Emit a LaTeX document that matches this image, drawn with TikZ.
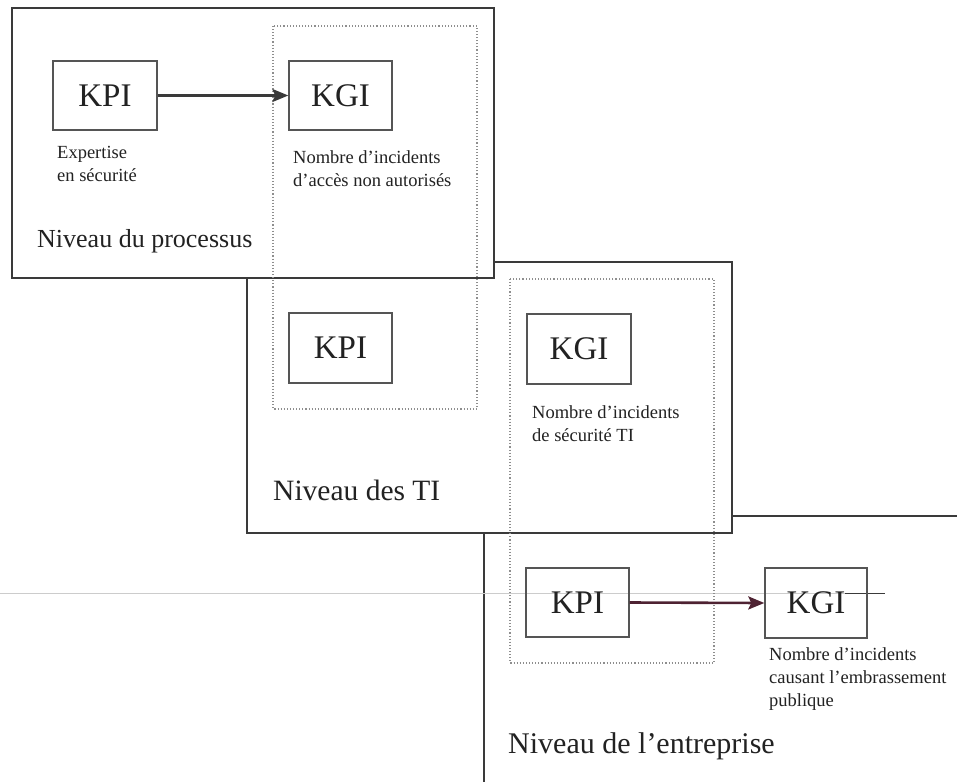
\documentclass[tikz,border=0pt]{standalone}
\usepackage{fontspec}
\setmainfont{Liberation Serif}
\usetikzlibrary{arrows.meta}

\definecolor{ink}{HTML}{222222}
\definecolor{frame}{HTML}{3A3A3A}
\definecolor{boxline}{HTML}{555555}
\definecolor{dotline}{HTML}{8E8E8E}
\definecolor{maroon}{HTML}{4E2232}

\tikzset{
  level/.style={draw=frame, line width=1.6pt, fill=white},
  group/.style={draw=dotline, line width=1.1pt, dotted},
  kbox/.style={draw=boxline, line width=1.4pt, inner sep=0pt,
    text=ink, font=\fontsize{33}{36}\selectfont},
  note/.style={anchor=base west, inner sep=0pt, text=ink,
    font=\fontsize{18.5}{23}\selectfont},
  levelname/.style={anchor=base west, inner sep=0pt, text=ink},
  link/.style={line width=2.6pt, -{Stealth[length=16pt, width=13pt, inset=3pt]}}
}

\newcommand{\lines}[1]{\begin{tabular}[t]{@{}l@{}}#1\end{tabular}}

\begin{document}
\begin{tikzpicture}[x=1pt, y=-1pt]
  \fill[white] (0,0) rectangle (957,781);
  \clip (0,0) rectangle (957,781);

  % enterprise level (runs off the page to the right and bottom)
  \draw[level] (484,516) rectangle (1000,900);
  % IT level
  \draw[level] (247,262) rectangle (732,533);
  % process level
  \draw[level] (12,8) rectangle (494,278);

  % faint horizontal rule across the lower part, dark at its right end
  \coordinate (ruleL) at (0,593);
  \coordinate (ruleM) at (845,593);
  \coordinate (ruleR) at (885,593);
  \draw[line width=1pt, black!20] (ruleL) -- (ruleM);
  \draw[line width=1pt, frame] (ruleM) -- (ruleR);

  % dotted groupings linking adjacent levels
  \draw[group] (273,26) rectangle (477,409);
  \draw[group] (510,279) rectangle (714,663);

  % process level contents
  \node[kbox, minimum width=104pt, minimum height=69pt] (kpi1) at (105,95.5) {KPI};
  \node[kbox, minimum width=103pt, minimum height=69pt] (kgi1) at (340.5,95.5) {KGI};
  \node[note] (n1) at (57,158) {\lines{Expertise\\en sécurité}};
  \node[note] (n2) at (293,163) {\lines{Nombre d’incidents\\d’accès non autorisés}};
  \node[levelname, font=\fontsize{26}{30}\selectfont] (l1) at (37,247) {Niveau du processus};

  % IT level contents
  \node[kbox, minimum width=103pt, minimum height=70pt] (kpi2) at (340.5,348) {KPI};
  \node[kbox, minimum width=104pt, minimum height=70pt] (kgi2) at (579,349) {KGI};
  \node[note] (n3) at (532,418) {\lines{Nombre d’incidents\\de sécurité TI}};
  \node[levelname, font=\fontsize{29.5}{33}\selectfont] (l2) at (273,500) {Niveau des TI};

  % enterprise level contents
  \node[kbox, minimum width=103pt, minimum height=69pt] (kpi3) at (577.5,602.5) {KPI};
  \node[kbox, minimum width=102pt, minimum height=70pt] (kgi3) at (816,603) {KGI};
  \node[note] (n4) at (769,660) {\lines{Nombre d’incidents\\causant l’embrassement\\publique}};
  \node[levelname, font=\fontsize{30}{34}\selectfont] (l3) at (508,753) {Niveau de l’entreprise};

  % links
  \draw[link, frame] (kpi1.east) -- (kgi1.west);
  \draw[link, maroon] (kpi3.east) -- (kgi3.west);
\end{tikzpicture}
\end{document}
